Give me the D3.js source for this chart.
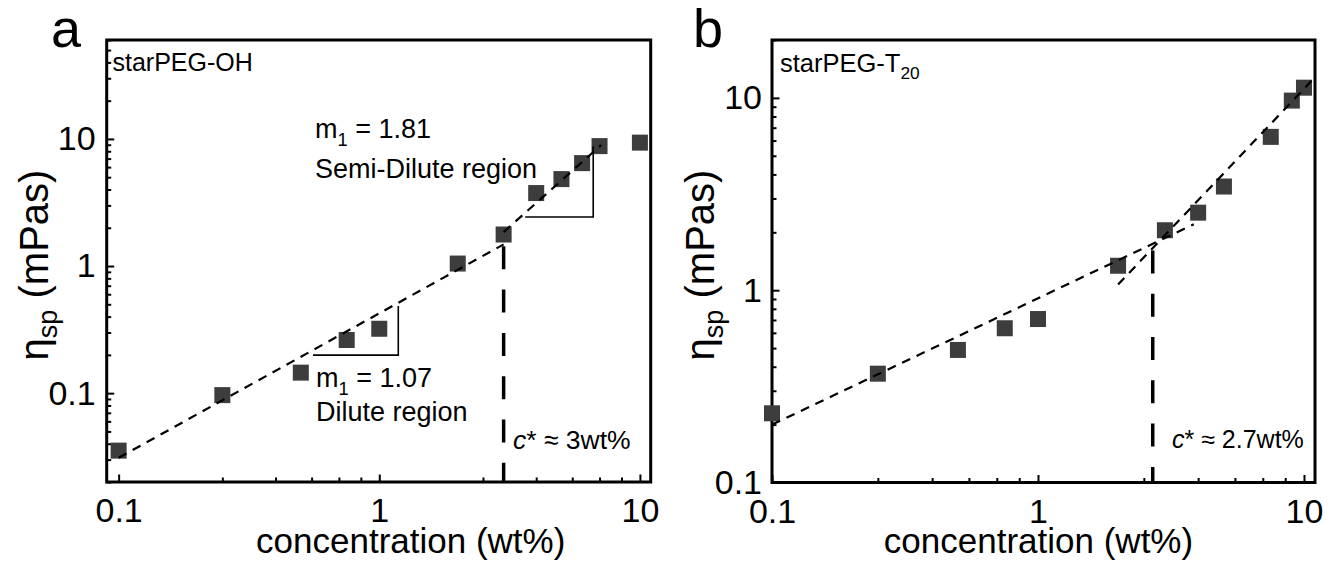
<!DOCTYPE html>
<html>
<head>
<meta charset="utf-8">
<script src="https://cdn.jsdelivr.net/npm/d3@7"></script>
<style>
  body { margin: 0; background: #fff; }
  svg text { font-family: "Liberation Sans", Arial, sans-serif; fill: #000; }
</style>
</head>
<body>
<svg id="chart" width="1339" height="570"></svg>
<script>
// panel a: starPEG-OH
const concA = [0.1, 0.25, 0.5, 0.75, 1, 2, 3, 4, 5, 6, 7, 10]
const etaA = [0.0353, 0.0965, 0.145, 0.262, 0.321, 1.046, 1.77, 3.75, 4.83, 6.45, 8.78, 9.35]
const fitA_dilute = [[0.1, 0.031], [3, 1.48]]
const fitA_semi = [[3, 1.85], [7.1, 8.95]]
const triA_dilute = [[0.557, 0.199], [1.183, 0.199], [1.183, 0.484]]
const triA_semi = [[3.63, 2.43], [6.62, 2.43], [6.62, 8.7]]
const cStarA = [[3, 1.43], [3, 0.02]]

// panel b: starPEG-T20
const concB = [0.1, 0.25, 0.5, 0.75, 1, 2, 3, 4, 5, 7.5, 9, 10]
const etaB = [0.229, 0.368, 0.489, 0.634, 0.708, 1.34, 2.05, 2.53, 3.46, 6.27, 9.68, 11.3]
const fitB_dilute = [[0.1, 0.2], [3.85, 2.2]]
const fitB_semi = [[2, 1.07], [11, 12.8]]
const cStarB = [[2.7, 1.61], [2.7, 0.1]]

// axes
const xDomainA = [0.09, 11]
const yDomainA = [0.02, 60]
const xDomainB = [0.1, 11]
const yDomainB = [0.1, 20]
const majorTicks = [0.01, 0.1, 1, 10, 100]
const xMinorSteps = [2.5, 4, 5.5, 7, 8.5]
const yMinorSteps = [2, 3, 4, 5, 6, 7, 8, 9]
const tickLabels = {0.1: "0.1", 1: "1", 10: "10"}

const svg = d3.select("#chart")

function minorTicks(domain, steps){
  const out = []
  for (const m of majorTicks) {
    for (const s of steps) {
      const v = m * s
      if (v >= domain[0] && v <= domain[1]) out.push(v)
    }
  }
  return out
}

function drawPanel(p){
  const g = svg.append("g")
  const x = d3.scaleLog().domain(p.xDomain).range([p.left, p.right])
  const y = d3.scaleLog().domain(p.yDomain).range([p.bottom, p.top])

  const inX = v => v >= p.xDomain[0] * 0.999 && v <= p.xDomain[1] * 1.001
  const inY = v => v >= p.yDomain[0] * 0.999 && v <= p.yDomain[1] * 1.001

  // x axis (ticks inward)
  const xMajor = g.append("g").attr("transform", `translate(0,${p.bottom})`)
    .call(d3.axisBottom(x).tickValues(majorTicks.filter(inX))
      .tickFormat(d => tickLabels[d]).tickSizeInner(-7.5).tickSizeOuter(0).tickPadding(16))
  const xMinor = g.append("g").attr("transform", `translate(0,${p.bottom})`)
    .call(d3.axisBottom(x).tickValues(minorTicks(p.xDomain, xMinorSteps))
      .tickFormat("").tickSizeInner(-4.5).tickSizeOuter(0))

  // y axis
  const yMajor = g.append("g").attr("transform", `translate(${p.left},0)`)
    .call(d3.axisLeft(y).tickValues(majorTicks.filter(inY))
      .tickFormat(d => tickLabels[d]).tickSizeInner(-7.5).tickSizeOuter(0).tickPadding(p.yPad))
  const yMinor = g.append("g").attr("transform", `translate(${p.left},0)`)
    .call(d3.axisLeft(y).tickValues(minorTicks(p.yDomain, yMinorSteps))
      .tickFormat("").tickSizeInner(-4.5).tickSizeOuter(0))

  for (const a of [xMajor, xMinor, yMajor, yMinor]) {
    a.select(".domain").remove()
    a.selectAll("line").attr("stroke", "#000").attr("stroke-width", 2)
    a.selectAll("text").attr("font-size", 34).attr("font-family", null).attr("fill", "#000")
  }

  // frame
  g.append("rect")
    .attr("x", p.left).attr("y", p.top)
    .attr("width", p.right - p.left).attr("height", p.bottom - p.top)
    .attr("fill", "none").attr("stroke", "#000").attr("stroke-width", 3)

  // markers
  const sz = 16
  g.selectAll("rect.pt").data(d3.zip(p.conc, p.eta)).join("rect")
    .attr("class", "pt")
    .attr("x", d => x(d[0]) - sz / 2).attr("y", d => y(d[1]) - sz / 2)
    .attr("width", sz).attr("height", sz)
    .attr("fill", "#3d3d3d")

  const line = d3.line().x(d => x(d[0])).y(d => y(d[1]))

  // fit lines
  for (const f of p.fits) {
    g.append("path").attr("d", line(f))
      .attr("fill", "none").attr("stroke", "#000")
      .attr("stroke-width", 2.2).attr("stroke-dasharray", "9,7")
  }

  // c* marker
  g.append("path").attr("d", line(p.cStar))
    .attr("fill", "none").attr("stroke", "#000")
    .attr("stroke-width", 3.5).attr("stroke-dasharray", "23,20.3")

  // slope triangles
  for (const t of p.tris || []) {
    g.append("path").attr("d", line(t))
      .attr("fill", "none").attr("stroke", "#000").attr("stroke-width", 1.6)
  }

  // axis titles
  g.append("text")
    .attr("x", (p.left + p.right) / 2 + p.xTitleShift).attr("y", 553)
    .attr("text-anchor", "middle").attr("font-size", 35)
    .text("concentration (wt%)")

  const yt = g.append("text")
    .attr("transform", `translate(${p.yTitleX},${p.yTitleY}) rotate(-90)`)
    .attr("text-anchor", "middle").attr("font-size", 40)
  yt.append("tspan").text("η")
  yt.append("tspan").attr("font-size", 27).attr("dy", 9).text("sp")
  yt.append("tspan").attr("dy", -9).text(" (mPas)")

  // panel letter
  g.append("text").attr("x", p.letterX).attr("y", 47)
    .attr("font-size", 54).text(p.letter)

  return {g, x, y}
}

function subText(g, xx, yy, size, main, sub, rest){
  const t = g.append("text").attr("x", xx).attr("y", yy).attr("font-size", size)
  t.append("tspan").text(main)
  t.append("tspan").attr("font-size", size * 0.68).attr("dy", size * 0.28).text(sub)
  if (rest) t.append("tspan").attr("dy", -size * 0.28).text(rest)
  return t
}

function cStarText(g, xx, yy, size, val){
  const t = g.append("text").attr("x", xx).attr("y", yy).attr("font-size", size)
  t.append("tspan").attr("font-style", "italic").text("c")
  t.append("tspan").text("* \u2248 " + val + "wt%")
}

const A = drawPanel({
  letter: "a", letterX: 51,
  left: 106.7, right: 650.7, top: 40, bottom: 482,
  xDomain: xDomainA, yDomain: yDomainA, yPad: 11,
  conc: concA, eta: etaA,
  fits: [fitA_dilute, fitA_semi], cStar: cStarA,
  tris: [triA_dilute, triA_semi],
  xTitleShift: 32, yTitleX: 48, yTitleY: 265
})
A.g.append("text").attr("x", 112.5).attr("y", 71).attr("font-size", 25).text("starPEG-OH")
subText(A.g, 315, 138, 27, "m", "1", " = 1.81")
A.g.append("text").attr("x", 315).attr("y", 178).attr("font-size", 27).text("Semi-Dilute region")
subText(A.g, 316, 387, 27, "m", "1", " = 1.07")
A.g.append("text").attr("x", 316).attr("y", 421).attr("font-size", 27).text("Dilute region")
cStarText(A.g, 513, 449, 26.5, "3")

const B = drawPanel({
  letter: "b", letterX: 693,
  left: 772, right: 1315, top: 40, bottom: 482.5,
  xDomain: xDomainB, yDomain: yDomainB, yPad: 10,
  conc: concB, eta: etaB,
  fits: [fitB_dilute, fitB_semi], cStar: cStarB,
  tris: [],
  xTitleShift: -5, yTitleX: 714, yTitleY: 265
})
subText(B.g, 780, 72, 25.5, "starPEG-T", "20", "")
cStarText(B.g, 1172, 448, 25, "2.7")
</script>
</body>
</html>
